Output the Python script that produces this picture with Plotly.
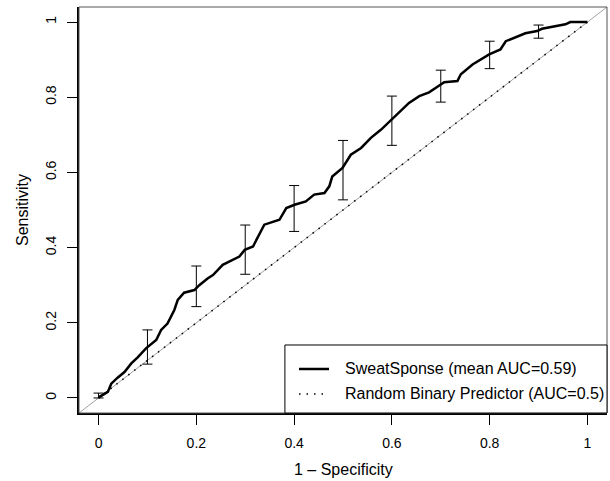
import plotly.graph_objects as go

# mean ROC curve (1 - specificity vs sensitivity)
fpr = [0.0, 0.002, 0.019, 0.026, 0.039, 0.053, 0.067, 0.080, 0.097, 0.118,
       0.128, 0.141, 0.155, 0.162, 0.175, 0.196, 0.206, 0.223, 0.234, 0.254,
       0.288, 0.299, 0.316, 0.326, 0.339, 0.370, 0.384, 0.401, 0.424, 0.441,
       0.462, 0.472, 0.478, 0.499, 0.516, 0.537, 0.557, 0.578, 0.598, 0.615,
       0.635, 0.656, 0.676, 0.697, 0.707, 0.734, 0.741, 0.765, 0.799, 0.822,
       0.833, 0.873, 0.897, 0.907, 0.935, 0.955, 0.965, 1.0]
tpr = [0.0, 0.003, 0.016, 0.038, 0.054, 0.069, 0.092, 0.108, 0.132, 0.154,
       0.181, 0.198, 0.234, 0.261, 0.280, 0.287, 0.300, 0.318, 0.327, 0.354,
       0.376, 0.394, 0.403, 0.429, 0.461, 0.474, 0.505, 0.514, 0.523, 0.541,
       0.545, 0.563, 0.589, 0.612, 0.647, 0.665, 0.692, 0.714, 0.739, 0.758,
       0.785, 0.803, 0.813, 0.831, 0.840, 0.843, 0.861, 0.887, 0.914, 0.927,
       0.949, 0.970, 0.976, 0.982, 0.988, 0.994, 1.0, 1.0]

# error bars every 0.1 of 1 - specificity
bar_x = [0.0, 0.1, 0.2, 0.3, 0.4, 0.5, 0.6, 0.7, 0.8, 0.9]
bar_mid = [0.005, 0.132, 0.300, 0.392, 0.512, 0.610, 0.739, 0.838, 0.914, 0.976]
bar_hi = [0.013, 0.181, 0.351, 0.460, 0.565, 0.685, 0.803, 0.872, 0.949, 0.992]
bar_lo = [0.000, 0.090, 0.243, 0.329, 0.443, 0.527, 0.672, 0.787, 0.876, 0.957]

diag = [-0.04, 1.04]
rand_x = [0, 1]
rand_y = [0, 1]

tick_vals = [0, 0.2, 0.4, 0.6, 0.8, 1]
tick_text = ["0", "0.2", "0.4", "0.6", "0.8", "1"]

legend_labels = ["SweatSponse (mean AUC=0.59)", "Random Binary Predictor (AUC=0.5)"]

fig = go.Figure()

# grey reference diagonal across the whole plot area
fig.add_trace(go.Scatter(x=diag, y=diag, mode="lines",
                         line=dict(color="#a0a0a0", width=1),
                         showlegend=False, hoverinfo="skip"))

rand_dash = "1.5px,6px"
fig.add_trace(go.Scatter(x=rand_x, y=rand_y, mode="lines",
                         line=dict(color="black", width=1.5, dash=rand_dash),
                         showlegend=False, hoverinfo="skip"))

fig.add_trace(go.Scatter(x=fpr, y=tpr, mode="lines",
                         line=dict(color="black", width=2.5),
                         showlegend=False))

fig.add_trace(go.Scatter(
    x=bar_x, y=bar_mid, mode="markers",
    marker=dict(size=1, opacity=0),
    error_y=dict(type="data", symmetric=False,
                 array=[h - m for h, m in zip(bar_hi, bar_mid)],
                 arrayminus=[m - l for m, l in zip(bar_mid, bar_lo)],
                 color="black", thickness=1, width=5),
    showlegend=False, hoverinfo="skip"))

tick_font = dict(family="Liberation Sans, Arial, sans-serif", size=14, color="black")
label_font = dict(family="Liberation Sans, Arial, sans-serif", size=16, color="black")

fig.update_xaxes(range=[-0.04, 1.04], tickvals=tick_vals, ticktext=tick_text,
                 ticks="outside", ticklen=10, tickcolor="black", tickwidth=1,
                 showgrid=False, zeroline=False, automargin=False,
                 showline=True, linecolor="black", linewidth=1.5,
                 tickfont=tick_font, ticklabelstandoff=6)
fig.update_yaxes(range=[-0.04, 1.04], tickvals=tick_vals, ticktext=tick_text,
                 ticks="outside", ticklen=10, tickcolor="black", tickwidth=1,
                 showgrid=False, zeroline=False, automargin=False,
                 showline=True, linecolor="black", linewidth=1.5,
                 tickfont=tick_font, tickangle=-90, ticklabelstandoff=6)

# plot frame
fig.add_shape(type="rect", xref="paper", yref="paper", x0=0, y0=0, x1=1, y1=1,
              line=dict(color="#555555", width=1))

# axis titles
fig.add_annotation(text="1 \u2013 Specificity", xref="paper", yref="paper",
                   x=0.5, y=-0.14, showarrow=False, font=label_font,
                   xanchor="center", yanchor="middle")
fig.add_annotation(text="Sensitivity", xref="paper", yref="paper",
                   x=-0.108, y=0.5, showarrow=False, font=label_font, textangle=-90,
                   xanchor="center", yanchor="middle")

# legend box in the bottom-right corner, R style
fig.add_shape(type="rect", xref="paper", yref="paper", x0=0.39, y0=0, x1=1, y1=0.1675,
              line=dict(color="black", width=1), fillcolor="white", layer="above")
leg_rows = [0.1084, 0.0468]
fig.add_shape(type="line", xref="paper", yref="paper", x0=0.4167, x1=0.4735,
              y0=leg_rows[0], y1=leg_rows[0], line=dict(color="black", width=2.5),
              layer="above")
fig.add_shape(type="line", xref="paper", yref="paper", x0=0.4167, x1=0.4735,
              y0=leg_rows[1], y1=leg_rows[1],
              line=dict(color="black", width=1.5, dash=rand_dash), layer="above")
for lab, ry in zip(legend_labels, leg_rows):
    fig.add_annotation(text=lab, xref="paper", yref="paper", x=0.5, y=ry,
                       showarrow=False, font=label_font, xanchor="left", yanchor="middle")

fig.update_layout(
    width=610, height=481,
    margin=dict(l=79, r=3, t=7, b=68),
    plot_bgcolor="white", paper_bgcolor="white",
    font=tick_font, showlegend=False,
)

# drop the default page margin so the figure sits at the window's corner
fig.write_html("out.html", config={"displayModeBar": False},
               post_script="document.body.style.margin='0px';")
